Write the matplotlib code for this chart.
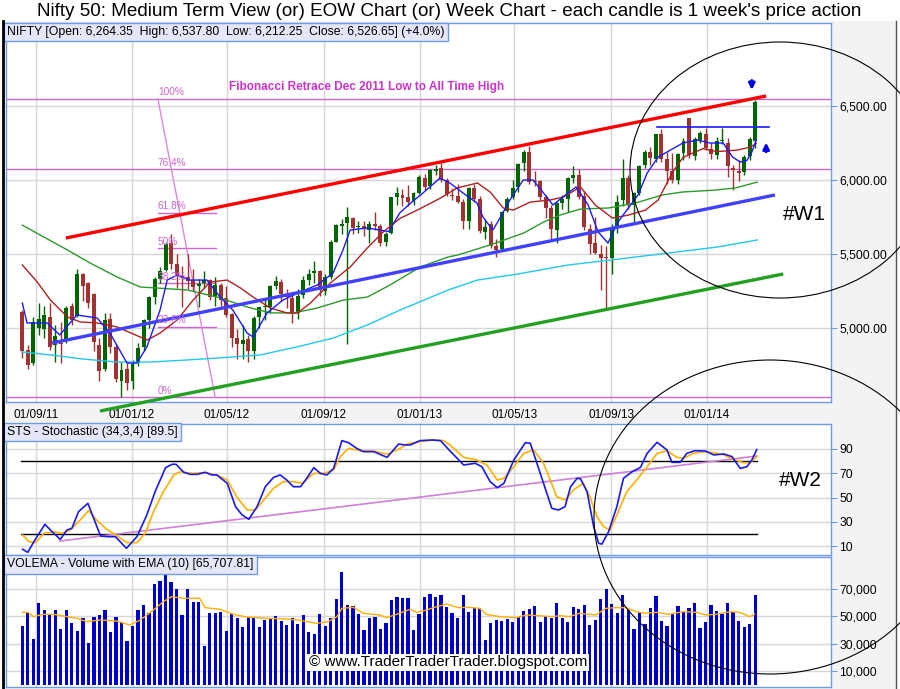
import numpy as np
import pandas as pd
import matplotlib
matplotlib.use("Agg")
import matplotlib.pyplot as plt
from matplotlib.patches import Ellipse, Rectangle
from matplotlib.lines import Line2D
from matplotlib.ticker import FuncFormatter

plt.rcParams['font.family'] = ['Liberation Sans', 'DejaVu Sans']

# ---- data (weekly candles, first candle = week of 15 Aug 2011) ----
week_start = pd.Timestamp("2011-08-15")

opens = [5105, 4850, 4760, 5000, 4990, 5070, 4880, 4890, 4920, 5150,
         5080, 5360, 5300, 5230, 4880, 4720, 5060, 4870, 4640, 4720,
         4640, 4760, 4870, 5050, 5210, 5330, 5390, 5570, 5430, 5350,
         5340, 5320, 5280, 5300, 5320, 5210, 5290, 5200, 5090, 4930,
         4890, 4925, 4840, 5070, 5140, 5140, 5280, 5310, 5230, 5200,
         5100, 5220, 5320, 5370, 5380, 5250, 5345, 5580, 5690, 5705,
         5740, 5680, 5690, 5660, 5700, 5690, 5580, 5640, 5880, 5900,
         5880, 5850, 5910, 6010, 5960, 6060, 6080, 5995, 5900, 5890,
         5850, 5720, 5945, 5870, 5650, 5700, 5550, 5530, 5790, 5880,
         5950, 6110, 6190, 5990, 5990, 5880, 5810, 5660, 5840, 5870,
         6010, 6030, 5890, 5670, 5570, 5500, 5480, 5470, 5680, 5860,
         6010, 5830, 5910, 6100, 6190, 6140, 6310, 6140, 6060, 6000,
         6180, 6415, 6160, 6270, 6310, 6210, 6170, 6260, 6250, 6080,
         6060, 6050, 6160, 6264.35]
highs = [5120, 4880, 5075, 5170, 5150, 5170, 5020, 5040, 5150, 5170,
         5400, 5370, 5310, 5235, 4930, 5100, 5100, 4890, 4770, 4760,
         4780, 4900, 5060, 5217, 5340, 5413, 5580, 5630, 5500, 5420,
         5500, 5400, 5330, 5380, 5330, 5340, 5300, 5280, 5100, 4990,
         5020, 4950, 5080, 5140, 5200, 5290, 5350, 5330, 5260, 5230,
         5260, 5350, 5400, 5450, 5390, 5360, 5590, 5700, 5735, 5815,
         5750, 5720, 5720, 5720, 5780, 5700, 5650, 5885, 5950, 5940,
         5965, 5915, 6030, 6040, 6075, 6100, 6112, 6010, 5945, 5970,
         5870, 5950, 5970, 5890, 5730, 5720, 5600, 5790, 5880, 6000,
         6110, 6200, 6229, 6060, 6000, 5900, 5830, 5850, 5900, 6020,
         6093, 6070, 5920, 5700, 5750, 5560, 5550, 5700, 5900, 6142,
         6030, 5920, 6100, 6200, 6220, 6310, 6342, 6190, 6180, 6180,
         6280, 6420, 6290, 6330, 6350, 6250, 6290, 6350, 6280, 6100,
         6130, 6170, 6290, 6537.80]
lows = [4796, 4720, 4750, 4950, 4930, 4850, 4770, 4760, 4895, 5020,
        5070, 5180, 5130, 4840, 4640, 4710, 4830, 4634, 4531, 4580,
        4588, 4740, 4840, 5000, 5160, 5300, 5380, 5400, 5270, 5140,
        5260, 5250, 5140, 5270, 5190, 5150, 5150, 5070, 4870, 4790,
        4790, 4770, 4790, 5000, 5050, 5100, 5260, 5180, 5130, 5030,
        5060, 5200, 5290, 5300, 5215, 5220, 5330, 5580, 5630, 4888,
        5630, 5640, 5620, 5570, 5660, 5550, 5550, 5635, 5830, 5820,
        5820, 5830, 5905, 5930, 5935, 6030, 5985, 5890, 5860, 5840,
        5670, 5670, 5850, 5640, 5600, 5540, 5477, 5520, 5780, 5870,
        5920, 6060, 5970, 5960, 5860, 5740, 5600, 5570, 5800, 5780,
        5980, 5870, 5660, 5500, 5500, 5254, 5118, 5360, 5640, 5820,
        5800, 5700, 5900, 6080, 6100, 6120, 6120, 5970, 5980, 5970,
        6130, 6150, 6130, 6250, 6200, 6140, 6140, 6240, 6020, 5933,
        5990, 6030, 6130, 6212.25]
closes = [4845, 4747, 5040, 5059, 5084, 4868, 4943, 4888, 5132, 5049,
          5360, 5284, 5168, 4906, 4710, 5050, 4867, 4652, 4714, 4624,
          4754, 4866, 5049, 5205, 5326, 5382, 5565, 5429, 5359, 5334,
          5318, 5278, 5296, 5323, 5207, 5291, 5190, 5087, 4929, 4891,
          4920, 4842, 5068, 5139, 5146, 5279, 5317, 5227, 5205, 5099,
          5215, 5320, 5366, 5386, 5258, 5342, 5577, 5691, 5703, 5747,
          5676, 5684, 5664, 5698, 5686, 5574, 5635, 5880, 5907, 5879,
          5847, 5908, 6016, 5951, 6064, 6074, 5998, 5903, 5887, 5850,
          5719, 5945, 5872, 5651, 5682, 5553, 5528, 5783, 5871, 5944,
          6107, 6187, 5984, 5986, 5881, 5808, 5667, 5842, 5868, 6009,
          6029, 5886, 5678, 5566, 5508, 5471, 5472, 5681, 5850, 6012,
          5833, 5907, 6096, 6189, 6144, 6307, 6141, 6056, 5995, 6176,
          6260, 6168, 6274, 6314, 6211, 6171, 6261, 6266, 6090, 6063,
          6048, 6155, 6277, 6526.65]
volumes = [42930, 52700, 33400, 59780, 54650, 50990, 54650, 40730, 54650, 45130,
           39270, 49030, 30470, 49520, 50990, 54650, 38540, 49520, 45860, 31940,
           42930, 54650, 58320, 52450, 73700, 75900, 81500, 75160, 70030, 50990,
           70030, 60510, 60510, 28280, 52450, 52450, 53190, 39270, 51720, 48790,
           42200, 49520, 48790, 42200, 47320, 48060, 50260, 46600, 43670, 48790,
           44400, 50990, 38540, 37070, 51720, 42930, 48790, 62710, 82490, 58320,
           57580, 51720, 40000, 48790, 49520, 40730, 45130, 61980, 64180, 63440,
           63440, 40000, 51720, 64180, 66370, 64180, 65640, 56850, 52700, 49030,
           65640, 53190, 56360, 56360, 32670, 45130, 47570, 46840, 48060, 46100,
           49520, 53920, 55630, 57580, 45860, 50500, 49030, 59780, 49030, 46100,
           56850, 55390, 58320, 43910, 47570, 62710, 70030, 59050, 52700, 65640,
           54650, 40980, 53190, 44400, 56360, 64910, 46840, 43180, 51720, 57580,
           53190, 56360, 59780, 41710, 45860, 58320, 53920, 51970, 59780, 53190,
           46840, 42440, 44400, 65708]

# moving averages: (week index, value)
ma_fast = [(0, 5167), (0.85, 5032), (4.5, 5032), (6.8, 4951), (9.9, 5086), (13.6, 5065),
           (15.9, 4964), (19.0, 4761), (20.8, 4761), (22.6, 4869), (25.0, 5120), (26.3, 5322),
           (28.1, 5356), (30.4, 5322), (33.5, 5322), (35.9, 5207), (38.2, 5120), (40.8, 4964),
           (41.9, 4937), (44.4, 5099), (47.3, 5187), (50.4, 5241), (53.5, 5288), (56.4, 5369),
           (58.2, 5525), (59.5, 5660), (62.6, 5674), (64.9, 5660), (66.5, 5650), (68.5, 5775),
           (70.5, 5843), (72.7, 5910), (75.8, 6011), (77.6, 5978), (80.0, 5910), (82.5, 5843),
           (83.6, 5748), (85.4, 5660), (86.8, 5748), (88.5, 5863), (90.9, 5998), (92.7, 5998),
           (95.2, 5883), (96.3, 5829), (98.1, 5883), (100.5, 5951), (102.7, 5829), (104.5, 5647),
           (106.3, 5572), (108.1, 5714), (110.0, 5809), (111.8, 5900), (113.4, 6045),
           (115.4, 6153), (117.6, 6200), (119.9, 6248), (122.5, 6268), (124.8, 6248),
           (127.2, 6248), (128.9, 6153), (130.3, 6120), (131.5, 6130), (132.4, 6187), (133.2, 6268)]
ma_mid = [(0, 5424), (2.7, 5309), (5.1, 5187), (8.2, 5072), (10.5, 5039), (13.6, 5032),
          (17.2, 5005), (21.4, 4937), (22.7, 4917), (25, 4964), (28.1, 5052), (31, 5187),
          (34.1, 5309), (37.2, 5322), (39.6, 5268), (41.9, 5207), (45, 5133), (48.1, 5099),
          (49.9, 5099), (52.3, 5167), (55.9, 5302), (59.5, 5410), (62.6, 5538), (65.5, 5647),
          (68.6, 5740), (71.7, 5795), (75.9, 5876), (78.9, 5944), (82.6, 5978), (84.9, 5917),
          (87.3, 5809), (89.1, 5795), (92.2, 5849), (95.8, 5863), (98.2, 5883), (101.3, 5951),
          (104, 5829), (107.1, 5741), (110, 5761), (113.1, 5795), (115.4, 5863), (118, 6050),
          (119.9, 6150), (123.5, 6210), (126.1, 6190), (129.7, 6200), (132.1, 6220), (133.2, 6245)]
ma_slow = [(0, 5693), (3.8, 5615), (8.2, 5525), (12.3, 5437), (17.2, 5343), (21.4, 5275),
           (24.5, 5268), (29.9, 5255), (35.4, 5207), (40.8, 5140), (45, 5100), (49.2, 5100),
           (53.5, 5133), (58.3, 5187), (62.6, 5207), (66.7, 5288), (72.2, 5410), (77.3, 5478),
           (79, 5491), (84.9, 5559), (91, 5640), (94.6, 5714), (97.6, 5761), (101.3, 5802),
           (106.4, 5809), (111.3, 5843), (116.2, 5897), (119.8, 5917), (125.8, 5930),
           (129.4, 5944), (133.4, 5984)]
ma_long = [(0, 4836), (5.1, 4816), (11.1, 4788), (17.2, 4768), (23.2, 4768), (29.9, 4782),
           (35.4, 4795), (43.2, 4816), (50.5, 4876), (56.4, 4930), (62.6, 5018), (68.6, 5120),
           (77.3, 5255), (82.6, 5322), (89.8, 5362), (98.9, 5423), (106.7, 5457), (117.1, 5504),
           (126.1, 5545), (133.4, 5593)]

# stochastic %K (blue) and %D (orange)
stoch_k = [(0.05, 7.3), (1.0, 4.8), (2.1, 13.6), (4.1, 27.9), (5.4, 21.8), (6.9, 15.5), (8.1, 23.2),
           (9.0, 24.6), (10.2, 38.3), (11.9, 45.2), (14.2, 18.3), (15.4, 17.7), (16.9, 17.7),
           (18.9, 8.1), (20.8, 17.7), (22.6, 35.6), (24.1, 54.8), (26.0, 74.6), (27.2, 77.4),
           (27.9, 77.4), (29.3, 70.8), (30.5, 69.1), (31.7, 69.1), (33.2, 70.8), (34.4, 68.6),
           (35.3, 68.6), (37.2, 61.7), (38.7, 42.4), (39.9, 35.6), (41.1, 32.0), (42.6, 42.4),
           (44.1, 58.9), (45.6, 66.6), (46.8, 68.6), (48.0, 64.4), (49.2, 58.9), (50.5, 58.9),
           (51.4, 64.4), (52.9, 74.6), (54.1, 69.9), (55.3, 68.6), (56.5, 74.0), (58.0, 96.9),
           (59.2, 95.2), (60.7, 90.5), (61.9, 87.8), (63.8, 87.8), (66.2, 83.1), (68.3, 94.1),
           (69.5, 93.3), (70.4, 93.3), (72.2, 96.9), (74.4, 97.4), (75.9, 96.9), (77.6, 88.5),
           (80.1, 76.8), (82.2, 78.2), (83.4, 75.4), (84.9, 63.1), (86.2, 58.1), (87.4, 61.7),
           (89.2, 80.9), (91.3, 95.2), (92.2, 94.7), (94.0, 69.9), (96.1, 41.1), (97.3, 39.7),
           (98.5, 42.4), (99.5, 58.9), (100.7, 65.8), (101.3, 65.5), (102.5, 54.8), (103.7, 25.9),
           (104.6, 12.2), (105.2, 11.6), (106.4, 21.8), (107.9, 42.4), (109.1, 65.8), (110.7, 71.3),
           (112.2, 74.9), (113.4, 86.4), (115.2, 95.5), (117.0, 89.2), (117.9, 79.0), (119.4, 79.0),
           (120.6, 86.4), (122.1, 88.6), (124.0, 88.3), (125.5, 85.1), (127.3, 85.9), (128.8, 83.7),
           (130.3, 74.0), (131.5, 75.4), (132.4, 80.9), (133.3, 89.5)]
stoch_d = [(0.05, 19.1), (1.2, 13.6), (2.4, 12.8), (3.9, 20.4), (5.7, 21.8), (7.2, 20.4), (8.7, 23.2),
           (10.5, 31.4), (12.0, 39.2), (13.5, 31.4), (15.1, 24.6), (16.9, 19.1), (19.0, 12.8),
           (20.8, 12.8), (22.3, 20.4), (23.8, 38.3), (25.6, 54.8), (27.5, 68.6), (28.7, 71.3),
           (30.8, 69.9), (32.9, 70.5), (35.3, 68.6), (37.2, 64.4), (38.9, 50.7), (40.8, 39.7),
           (42.3, 39.7), (43.8, 47.9), (45.6, 57.6), (47.4, 63.1), (49.2, 63.1), (50.8, 61.7),
           (52.9, 69.9), (54.7, 69.9), (56.5, 72.7), (57.7, 83.7), (59.2, 90.5), (61.3, 88.6),
           (63.8, 88.3), (66.2, 85.6), (68.6, 90.5), (69.8, 94.1), (72.2, 96.1), (74.6, 97.4),
           (76.5, 96.9), (77.6, 93.3), (80.1, 83.1), (82.5, 80.9), (84.3, 76.8), (86.2, 64.4),
           (87.4, 65.8), (89.2, 75.4), (91.0, 86.4), (92.8, 89.2), (94.6, 78.2), (97.0, 50.7),
           (98.5, 47.9), (100.0, 56.2), (101.8, 61.7), (103.0, 50.7), (104.3, 34.2), (105.5, 25.9),
           (106.7, 23.2), (107.9, 35.6), (109.7, 54.8), (111.5, 64.4), (113.4, 75.4), (115.2, 86.4),
           (117.0, 88.6), (118.8, 83.1), (120.0, 82.3), (121.8, 86.4), (123.6, 87.8), (125.5, 87.0),
           (127.3, 85.1), (129.1, 81.5), (130.9, 78.7), (132.1, 78.7), (133.3, 83.7)]

# volume EMA(10) line
vol_ema = [(0, 52940), (1.1, 52940), (2.0, 49770), (3.8, 51480), (5.6, 51480), (7.5, 50260),
           (9.9, 48550), (11.7, 46100), (14.1, 47320), (17.1, 46600), (19.5, 43670), (21.4, 47320),
           (23.8, 54650), (25.6, 60760), (27.1, 64420), (29.2, 63200), (32.2, 63200), (33.2, 56360),
           (35.9, 55140), (38.3, 51480), (40.7, 49520), (44.3, 48550), (48.0, 48060), (50.4, 47080),
           (53.4, 44890), (55.5, 46100), (57.1, 49770), (58.0, 55870), (60.1, 56600), (61.9, 52210),
           (64.9, 50990), (66.1, 49030), (67.9, 51480), (70.4, 55140), (71.6, 52940), (73.4, 54650),
           (74.6, 56360), (77.0, 59050), (79.1, 56360), (80.9, 56600), (83.0, 55870), (84.2, 51480),
           (86.6, 49770), (89.6, 49030), (91.5, 50990), (94.5, 50260), (96.3, 49770), (97.5, 50500),
           (99.3, 49770), (101.1, 52210), (104.1, 50990), (105.9, 55870), (107.7, 56360),
           (109.5, 56360), (111.4, 53430), (113.2, 52210), (115.0, 52940), (117.4, 51480),
           (119.9, 53430), (122.3, 52940), (124.1, 50990), (125.9, 51480), (128.4, 53430),
           (130.2, 52940), (132.0, 49770), (132.9, 51720)]

# drawn trend lines: ((week, value), (week, value))
trend_red = [(7.9, 5606), (135.0, 6566)]
trend_blue = [(5.4, 4897), (136.6, 5897)]
trend_green = [(14.1, 4437), (138.1, 5363)]
resist_line = [(115.2, 6356), (135.5, 6356)]
stoch_trend = [(6.8, 14.1), (133.3, 84.2)]

fib_low, fib_high = 4531, 6548
fib_pcts = [0, 23.6, 38.2, 50, 61.8, 76.4, 100]
fib_diag = [(24.6, 6548), (35.0, 4531)]

tick_dates = ["2011-09-01", "2012-01-01", "2012-05-01", "2012-09-01",
              "2013-01-01", "2013-05-01", "2013-09-01", "2014-01-01"]

# ---- layout ----
W, H = 900, 689
fig = plt.figure(figsize=(9, 6.89), dpi=100, facecolor="white")


def px_box(x0, y0, x1, y1):
    return [x0 / W, 1 - y1 / H, (x1 - x0) / W, (y1 - y0) / H]


fig.patches.append(Rectangle((5 / W, 0), 891 / W, 1 - 21 / H, transform=fig.transFigure,
                             facecolor="#f3f3f3", edgecolor="none", zorder=-10))
fig.add_artist(Line2D([3 / W, 3 / W], [0, 1 - 21 / H], color="black", lw=2, transform=fig.transFigure))
fig.add_artist(Line2D([896 / W, 896 / W], [0, 1 - 21 / H], color="#555555", lw=1, transform=fig.transFigure))

ax_p = fig.add_axes(px_box(6, 23, 831, 402))
ax_s = fig.add_axes(px_box(6, 424, 831, 555))
ax_v = fig.add_axes(px_box(6, 556.5, 831, 687))

GREEN = "#006400"
RED = "#a03232"
EDGE = "#6f9be6"
GRID = "#d6d6d6"

tick_pos = [(pd.Timestamp(d) - week_start).days / 7 for d in tick_dates]
tick_lab = [pd.Timestamp(d).strftime("%d/%m/%y") for d in tick_dates]

for ax in (ax_p, ax_s, ax_v):
    ax.set_facecolor("white")
    ax.set_xlim(-2.96, 146.77)
    ax.set_xticks(tick_pos)
    ax.yaxis.tick_right()
    ax.grid(True, color=GRID, lw=1, zorder=0)
    ax.set_axisbelow(True)
    for s in ax.spines.values():
        s.set_color(EDGE)
        s.set_linewidth(1)
    ax.tick_params(axis="y", direction="out", length=4, color=EDGE, labelsize=8.7, pad=2)
    ax.tick_params(axis="x", length=0, labelsize=8.5, pad=5)

ax_p.set_xticklabels(tick_lab)
ax_s.set_xticklabels([])
ax_v.set_xticklabels([])

# ---- price panel ----
idx = np.arange(len(closes))
o, h, l, c = map(np.array, (opens, highs, lows, closes))
cols = np.where(c >= o, GREEN, RED)
ax_p.vlines(idx, l, h, colors=cols, lw=1, zorder=3)
ax_p.bar(idx, np.maximum(np.abs(c - o), 6), bottom=np.minimum(o, c), width=0.72,
         color=cols, zorder=4)

for pts, col, lw in ((ma_long, "#22c8ee", 1), (ma_slow, "#2a9a2a", 1),
                     (ma_mid, "#b02020", 1), (ma_fast, "#1a1aff", 1)):
    xs, ys = zip(*pts)
    ax_p.plot(xs, ys, color=col, lw=lw, zorder=5)

for pts, col in ((trend_red, "#ff0000"), (trend_blue, "#4040ff"), (trend_green, "#22a022")):
    xs, ys = zip(*pts)
    ax_p.plot(xs, ys, color=col, lw=2.4, zorder=6, clip_on=False, solid_capstyle="butt")
xs, ys = zip(*resist_line)
ax_p.plot(xs, ys, color="#1a1aff", lw=1.2, zorder=6)

fib_col = "#cc66cc"
for pct in fib_pcts:
    lvl = fib_low + pct / 100 * (fib_high - fib_low)
    if pct in (0, 76.4, 100):
        ax_p.axhline(lvl, color=fib_col, lw=1, zorder=2)
    else:
        ax_p.plot([24.6, 35.1], [lvl, lvl], color=fib_col, lw=1, zorder=2)
    lab = "%g%%" % pct
    ax_p.text(24.6, lvl + 8, lab, color=fib_col, fontsize=7.3, ha="left", va="bottom", zorder=7)
xs, ys = zip(*fib_diag)
ax_p.plot(xs, ys, color="#dd88dd", lw=1, zorder=2)
ax_p.text(62.4, 6626, "Fibonacci Retrace Dec 2011 Low to All Time High", color="#cc33cc",
          fontsize=8.5, fontweight="bold", ha="center", va="center", zorder=7)

ax_p.annotate("", xy=(132.4, 6588), xytext=(132.4, 6690),
              arrowprops=dict(arrowstyle="-|>", color="#0000ee", lw=2, mutation_scale=9))
ax_p.annotate("", xy=(135.0, 6270), xytext=(135.0, 6170),
              arrowprops=dict(arrowstyle="-|>", color="#0000ee", lw=2, mutation_scale=9))

ax_p.set_ylim(4498, 7059)
ax_p.set_yticks([5000, 5500, 6000, 6500])
ax_p.yaxis.set_major_formatter(FuncFormatter(lambda v, p: "{:,.2f}".format(v)))

hdr = dict(boxstyle="square,pad=0.25", fc="#e6e6fa", ec=EDGE, lw=1)
ax_p.text(0.0015, 0.993, "NIFTY [Open: 6,264.35  High: 6,537.80  Low: 6,212.25  Close: 6,526.65] (+4.0%)",
          transform=ax_p.transAxes, ha="left", va="top", fontsize=8.8, bbox=hdr, zorder=10)

# ---- stochastic panel ----
for pts, col in ((stoch_d, "#ffb000"), (stoch_k, "#1a1aee")):
    xs, ys = zip(*pts)
    ax_s.plot(xs, ys, color=col, lw=1.2, zorder=4)
ax_s.plot([-0.2, 133.3], [80, 80], color="black", lw=1, zorder=3)
ax_s.plot([-0.2, 133.3], [20, 20], color="black", lw=1, zorder=3)
xs, ys = zip(*stoch_trend)
ax_s.plot(xs, ys, color="#d080d8", lw=1.2, zorder=3)
ax_s.set_ylim(2.6, 110.6)
ax_s.set_yticks([10, 30, 50, 70, 90])
ax_s.text(0.0015, 0.985, "STS - Stochastic (34,3,4) [89.5]", transform=ax_s.transAxes,
          ha="left", va="top", fontsize=8.8, bbox=hdr, zorder=10)

# ---- volume panel ----
ax_v.bar(idx, volumes, width=0.58, color="#0000cc", zorder=3)
xs, ys = zip(*vol_ema)
ax_v.plot(xs, ys, color="#ffb000", lw=1, zorder=4)
ax_v.set_ylim(-1760, 93850)
ax_v.set_yticks([10000, 30000, 50000, 70000])
ax_v.yaxis.set_major_formatter(FuncFormatter(lambda v, p: "{:,.0f}".format(v)))
ax_v.text(0.0015, 0.985, "VOLEMA - Volume with EMA (10) [65,707.81]", transform=ax_v.transAxes,
          ha="left", va="top", fontsize=8.8, bbox=hdr, zorder=10)
ax_v.text(0.536, 0.19, "\u00a9 www.TraderTraderTrader.blogspot.com", transform=ax_v.transAxes,
          ha="center", va="center", fontsize=11,
          bbox=dict(boxstyle="square,pad=0.1", fc="white", ec="none"), zorder=10)

# ---- title and hand drawn marks ----
fig.text(449.5 / W, 1 - 12 / H,
         "Nifty 50: Medium Term View (or) EOW Chart (or) Week Chart - each candle is 1 week's price action",
         ha="center", va="center", fontsize=13.6)
for cx, cy, ew, eh in ((780, 170, 300, 256), (770, 517, 352, 314)):
    fig.add_artist(Ellipse((cx / W, 1 - cy / H), ew / W, eh / H, transform=fig.transFigure,
                           fill=False, ec="black", lw=0.8, zorder=20))
fig.text(804 / W, 1 - 215 / H, "#W1", fontsize=15, ha="center", va="center")
fig.text(800 / W, 1 - 480 / H, "#W2", fontsize=15, ha="center", va="center")

fig.savefig("out.png", dpi=100, facecolor=fig.get_facecolor())
